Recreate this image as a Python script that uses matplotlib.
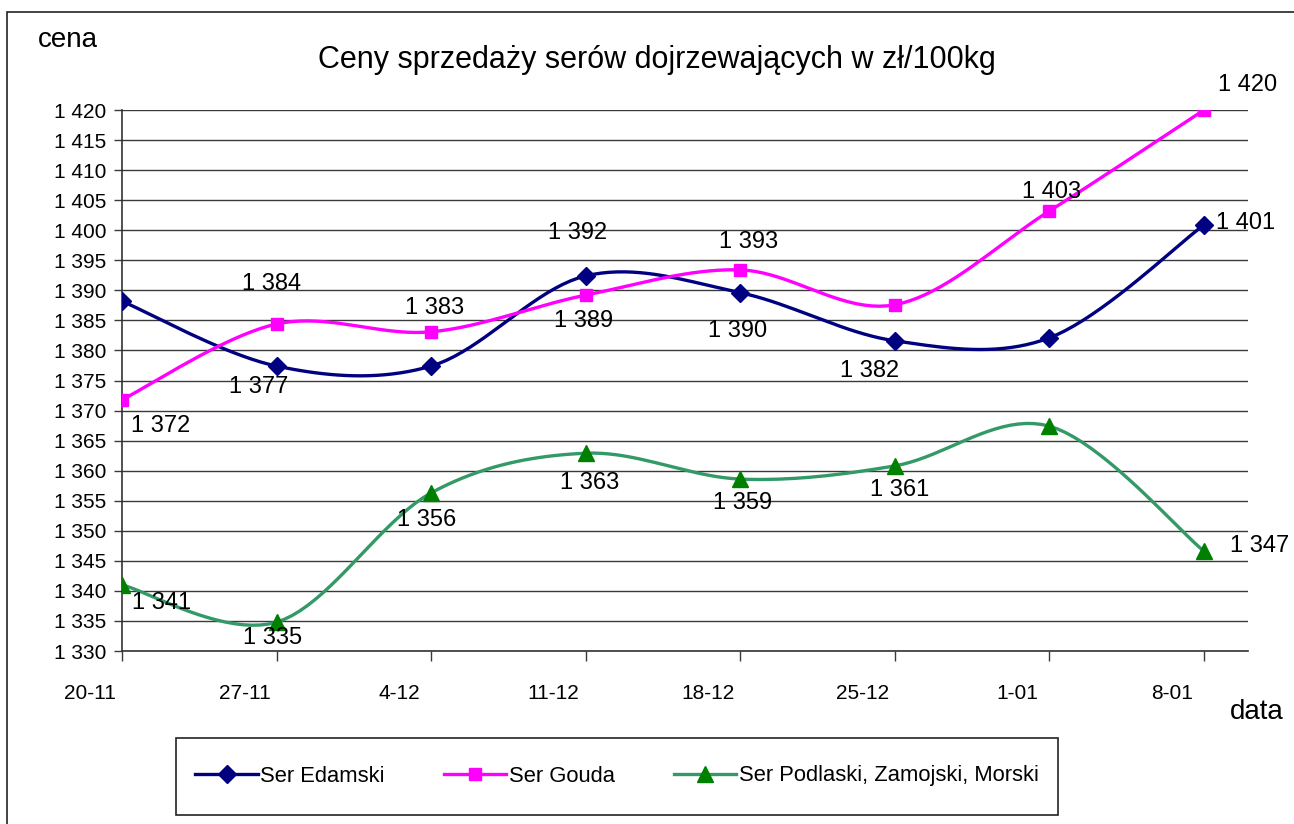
import numpy as np
import matplotlib
matplotlib.use("Agg")
import matplotlib.pyplot as plt
from matplotlib.patches import Rectangle
from matplotlib.lines import Line2D
from matplotlib.transforms import ScaledTranslation

plt.rcParams['font.family'] = ['Liberation Sans', 'DejaVu Sans']

# ---- data ----
dates = ["20-11", "27-11", "4-12", "11-12", "18-12", "25-12", "1-01", "8-01"]
edamski = [1388.2, 1377.4, 1377.4, 1392.4, 1389.6, 1381.6, 1382.1, 1400.9]
gouda = [1371.8, 1384.4, 1383.1, 1389.2, 1393.4, 1387.6, 1403.2, 1420.0]
podlaski = [1341.0, 1334.8, 1356.3, 1362.9, 1358.6, 1360.8, 1367.4, 1346.6]
series_names = ["Ser Edamski", "Ser Gouda", "Ser Podlaski, Zamojski, Morski"]
yticks = [1330, 1335, 1340, 1345, 1350, 1355, 1360, 1365, 1370, 1375, 1380,
          1385, 1390, 1395, 1400, 1405, 1410, 1415, 1420]

# label offsets in pixels (dx, dy-down); None = no label
ed_off = [None, (-18, 21), None, (-8, -43), (-3, 38), (-25, 30), None, (42, -2)]
go_off = [(39, 26), (-5, -40), (3, -24), (-2, 26), (8, -28), None, (2, -19), (44, -25)]
po_off = [(40, 18), (-4, 16), (-5, 27), (4, 30), (2, 24), (5, 24), None, (56, -5)]

W, H = 1294, 824
DPI = 100
fig = plt.figure(figsize=(W / DPI, H / DPI), dpi=DPI)
fig.patch.set_facecolor('white')

# outer frame
fig.add_artist(Rectangle((7 / W, -0.5), 2.0, 1.5 - 12 / H,
                         transform=fig.transFigure, fill=False,
                         edgecolor='#222222', lw=1.2))

ax = fig.add_axes([122 / W, 1 - 651 / H, (1248 - 122) / W, (651 - 110) / H])
ax.set_facecolor('white')


def smooth(y, n=20):
    x = np.arange(len(y), dtype=float)
    y = np.asarray(y, dtype=float)
    P = np.column_stack([x, y])
    out = [P[0]]
    for i in range(len(P) - 1):
        p0 = P[i - 1] if i > 0 else P[i]
        p1 = P[i]
        p2 = P[i + 1]
        p3 = P[i + 2] if i + 2 < len(P) else P[i + 1]
        c1 = p1 + (p2 - p0) / 6.0
        c2 = p2 - (p3 - p1) / 6.0
        t = np.linspace(0, 1, n + 1)[1:, None]
        b = ((1 - t) ** 3) * p1 + 3 * ((1 - t) ** 2) * t * c1 + 3 * (1 - t) * t ** 2 * c2 + t ** 3 * p2
        out.extend(b)
    out = np.array(out)
    return out[:, 0], out[:, 1]


styles = [
    dict(data=edamski, color='#000080', mcolor='#000080', marker='D', ms=9, offs=ed_off),
    dict(data=gouda, color='#FF00FF', mcolor='#FF00FF', marker='s', ms=9, offs=go_off),
    dict(data=podlaski, color='#339966', mcolor='#008000', marker='^', ms=11, offs=po_off),
]

x = np.arange(len(dates))
handles = []
for s, name in zip(styles, series_names):
    sx, sy = smooth(s['data'])
    ax.plot(sx, sy, color=s['color'], lw=2.4, zorder=3, solid_capstyle='round')
    ax.plot(x, s['data'], linestyle='none', marker=s['marker'], ms=s['ms'],
            color=s['mcolor'], zorder=4)
    handles.append(Line2D([0], [0], color=s['color'], lw=2.4, marker=s['marker'],
                          ms=s['ms'], markerfacecolor=s['mcolor'], markeredgecolor=s['mcolor']))
    for xi, v, off in zip(x, s['data'], s['offs']):
        if off is None:
            continue
        lab = f"{int(round(v)):,}".replace(",", " ")
        ax.annotate(lab, (xi, v), xytext=(off[0] * 72 / DPI, -off[1] * 72 / DPI),
                    textcoords='offset points', ha='center', va='center',
                    fontsize=17, color='black', zorder=5)

ax.set_xlim(0, (1248 - 122) / ((1204 - 122) / 7))
ax.set_ylim(1330, 1420)
ax.set_yticks(yticks)
ax.set_yticklabels([f"{v:,}".replace(",", " ") for v in yticks], fontsize=15)
ax.yaxis.grid(True, color='#3a3a3a', lw=1.0)
ax.set_axisbelow(True)
ax.tick_params(axis='y', length=6, width=1, color='#3a3a3a', pad=5)
ax.set_xticks(x)
ax.set_xticklabels(dates, fontsize=15)
ax.tick_params(axis='x', length=7, width=1, color='#3a3a3a', pad=17)
for lbl in ax.get_xticklabels():
    lbl.set_transform(lbl.get_transform() + ScaledTranslation(-32 / DPI, 0, fig.dpi_scale_trans))
for side in ['top', 'right']:
    ax.spines[side].set_visible(False)
for side in ['left', 'bottom']:
    ax.spines[side].set_color('#333333')
    ax.spines[side].set_linewidth(1.2)

fig.text(657 / W, 1 - 60 / H, "Ceny sprzedaży serów dojrzewających w zł/100kg",
         ha='center', va='center', fontsize=22)
fig.text(38 / W, 1 - 40 / H, "cena", ha='left', va='center', fontsize=20)
fig.text(1230 / W, 1 - 712 / H, "data", ha='left', va='center', fontsize=20)

# legend box
fig.add_artist(Rectangle((176 / W, 1 - 815 / H), (1058 - 176) / W, (815 - 738) / H,
                         transform=fig.transFigure, fill=False, edgecolor='#222222', lw=1.2))
leg = fig.legend(handles, series_names, loc='center',
                 bbox_to_anchor=(617 / W, 1 - 776 / H), ncol=3, frameon=False,
                 fontsize=15.8, handlelength=2.85, handletextpad=0.1, columnspacing=2.7)

fig.savefig("out.png", dpi=DPI)
